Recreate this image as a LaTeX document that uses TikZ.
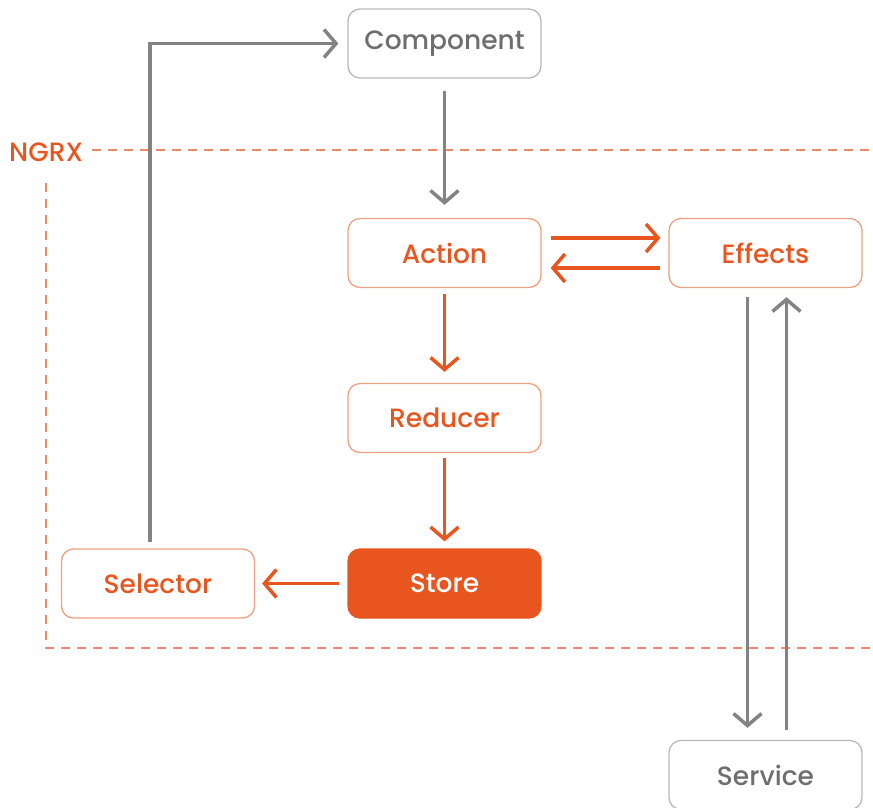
\documentclass[tikz,border=0pt]{standalone}
\usepackage{fontspec}
\setmainfont{Poppins Medium}
\usetikzlibrary{arrows.meta}
\definecolor{ngorange}{HTML}{E8551F}
\definecolor{ngborder}{HTML}{EFA080}
\definecolor{ngdash}{HTML}{EE8866}
\definecolor{arrgray}{HTML}{838383}
\definecolor{boxgray}{HTML}{B8B8B8}
\definecolor{txtgray}{HTML}{6E6E6E}
\tikzset{
  box/.style={rounded corners=12pt, minimum width=193pt, minimum height=69pt, line width=1.3pt, font=\fontsize{26.5}{30}\selectfont, inner sep=0pt},
  obox/.style={box, draw=ngborder, text=ngorange},
  gbox/.style={box, draw=boxgray, text=txtgray},
  sbox/.style={box, draw=ngorange, fill=ngorange, text=white},
  tip/.style={-{Straight Barb[length=12pt,width=28pt]}},
  oarrow/.style={tip, draw=ngorange, line width=3.5pt},
  garrow/.style={tip, draw=arrgray, line width=3.5pt},
  region/.style={draw=ngdash, dashed, dash pattern=on 9pt off 7pt, line width=1.2pt}
}
\begin{document}
\begin{tikzpicture}[x=1pt,y=-1pt]
\useasboundingbox (0,0) rectangle (873,807);
% region
\node[text=ngorange, font=\fontsize{26.5}{30}\selectfont, anchor=west, inner sep=0pt] (ngrx) at (9,152) {NGRX};
\draw[region] (92,150) -- (873,150);
\draw[region] (46,183) -- (46,648) -- (873,648);
% nodes
\node[gbox] (comp) at (444.5,43.5) {Component};
\node[obox] (action) at (444.5,253) {Action};
\node[obox] (effects) at (765.5,253) {Effects};
\node[obox] (reducer) at (444.5,418) {Reducer};
\node[sbox] (store) at (444.5,583.5) {Store};
\node[obox] (selector) at (158,583.5) {Selector};
\node[gbox] (service) at (765.5,775) {Service};
% connectors
\draw[garrow] ([yshift=-12pt]comp.south) -- ([yshift=13pt]action.north);
\draw[oarrow] ([xshift=9pt,yshift=15pt]action.east) -- ([xshift=-8pt,yshift=15pt]effects.west);
\draw[oarrow] ([xshift=-8pt,yshift=-15pt]effects.west) -- ([xshift=9pt,yshift=-15pt]action.east);
\draw[oarrow] ([yshift=-6pt]action.south) -- ([yshift=11pt]reducer.north);
\draw[oarrow] ([yshift=-5pt]reducer.south) -- ([yshift=7pt]store.north);
\draw[oarrow] ([xshift=-8pt]store.west) -- ([xshift=7pt]selector.east);
\draw[garrow] ([xshift=-8pt,yshift=6pt]selector.north) |- ([xshift=-9pt]comp.west);
\draw[garrow] ([xshift=-18pt,yshift=-9pt]effects.south) -- ([xshift=-18pt,yshift=12pt]service.north);
\draw[garrow] ([xshift=21pt,yshift=10pt]service.north) -- ([xshift=21pt,yshift=-9pt]effects.south);
\end{tikzpicture}
\end{document}
